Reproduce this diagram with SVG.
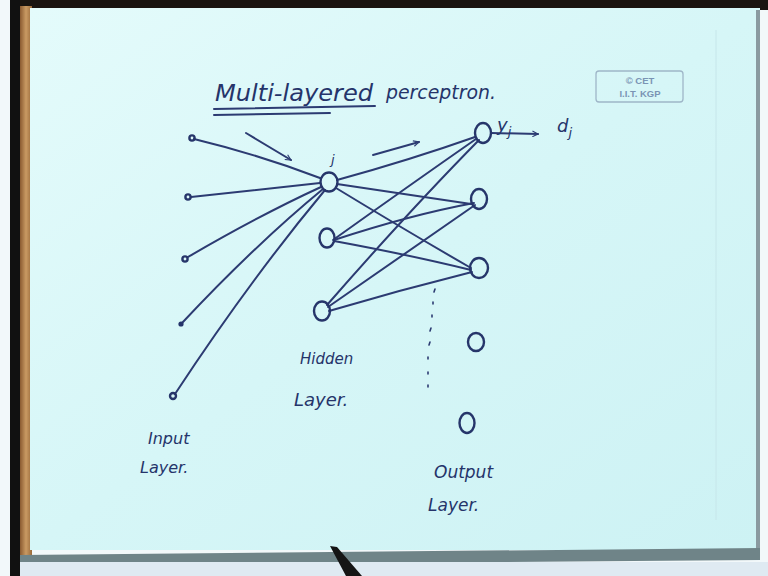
<svg xmlns="http://www.w3.org/2000/svg" width="768" height="576" viewBox="0 0 768 576">
  <defs>
    <linearGradient id="board" x1="0" y1="0" x2="1" y2="1">
      <stop offset="0" stop-color="#e4fbfb"/>
      <stop offset="0.5" stop-color="#d6f6f7"/>
      <stop offset="1" stop-color="#cdf2f4"/>
    </linearGradient>
    <linearGradient id="wood" x1="0" y1="0" x2="1" y2="0">
      <stop offset="0" stop-color="#8a5a30"/>
      <stop offset="0.5" stop-color="#c99a63"/>
      <stop offset="1" stop-color="#9a6a3a"/>
    </linearGradient>
    <marker id="ah" viewBox="0 0 10 10" refX="9" refY="5" markerWidth="7" markerHeight="7" orient="auto" markerUnits="userSpaceOnUse">
      <path d="M1,1 L9,5 L1,9" fill="none" stroke="#2c3b72" stroke-width="1.6"/>
    </marker>
    <style>
      .ink{stroke:#2c3b72;stroke-width:2;fill:none;stroke-linecap:round}
      .node{stroke:#26356a;stroke-width:2.4;fill:none}
      .hw{font-family:"DejaVu Sans","Liberation Sans",sans-serif;font-style:italic;fill:#25346a}
      .logo{font-family:"Liberation Sans",sans-serif;font-weight:bold;fill:#7a94b4;font-size:9.5px}
    </style>
  </defs>

  <!-- scene: board and frame -->
  <rect x="0" y="0" width="768" height="576" fill="#f2f8fa"/>
  <rect x="10" y="0" width="758" height="10" fill="#1a1410"/>
  <rect x="10" y="0" width="10" height="576" fill="#111"/>
  <rect x="20" y="6" width="12" height="570" fill="url(#wood)"/>
  <rect x="30" y="8" width="730" height="542" fill="url(#board)"/>
  <rect x="756" y="10" width="4" height="540" fill="#8a9aa0"/>
  <path d="M20,555 L760,548 L760,560 L20,566 Z" fill="#6f8488"/>
  <rect x="20" y="562" width="748" height="14" fill="#dfeaf2"/>
  <line x1="716" y1="30" x2="716" y2="520" stroke="#c6e6ea" stroke-width="1"/>

  <!-- logo -->
  <g id="logo">
    <rect x="596" y="71" width="87" height="31" rx="3" fill="none" stroke="#9fb6c8" stroke-width="1.3"/>
    <text class="logo" x="640" y="84" text-anchor="middle">© CET</text>
    <text class="logo" x="640" y="97" text-anchor="middle">I.I.T. KGP</text>
  </g>

  <!-- title -->
  <g id="title">
    <text class="hw" x="215" y="101" font-size="23" textLength="158" lengthAdjust="spacingAndGlyphs">Multi-layered</text>
    <text class="hw" x="386" y="99" font-size="20" textLength="110" lengthAdjust="spacingAndGlyphs">perceptron.</text>
    <path class="ink" d="M214,109 L375,106 M214,115 L330,113"/>
  </g>

  <!-- connectors -->
  <g id="connectors" class="ink">
    <!-- input -> hidden j -->
    <path d="M194,139 Q260,155 320,178"/>
    <path d="M191,197 L320,183"/>
    <path d="M188,257 Q260,215 321,187"/>
    <path d="M182,323 Q255,245 323,189"/>
    <path d="M175,394 Q250,280 325,190"/>
    <!-- hidden -> output -->
    <path d="M337,180 Q410,160 475,137"/>
    <path d="M337,184 Q410,195 471,204"/>
    <path d="M336,188 Q405,230 471,268"/>
    <path d="M333,240 Q410,185 476,139"/>
    <path d="M334,240 Q410,215 474,203"/>
    <path d="M334,241 Q410,255 471,270"/>
    <path d="M327,305 Q410,210 479,140"/>
    <path d="M328,307 Q410,250 475,205"/>
    <path d="M329,311 Q400,290 472,272"/>
    <!-- direction arrows -->
    <path d="M246,133 L291,160" marker-end="url(#ah)"/>
    <path d="M373,155 L419,142" marker-end="url(#ah)"/>
    <path d="M491,133 L538,134" marker-end="url(#ah)"/>
    <!-- dotted continuation -->
    <path d="M435,289 L434,292 M433,302 L433,304 M432,315 L432,317 M431,328 L430,331 M430,342 L429,345 M428,357 L428,359 M428,372 L428,374 M428,385 L428,387" stroke-width="1.6"/>
  </g>

  <!-- input layer -->
  <g id="input1"><circle class="node" cx="192" cy="138" r="2.6" stroke-width="1.8"/></g>
  <g id="input2"><circle class="node" cx="188" cy="197" r="2.6" stroke-width="1.8"/></g>
  <g id="input3"><circle class="node" cx="185" cy="259" r="2.6" stroke-width="1.8"/></g>
  <g id="input4"><circle cx="181" cy="324" r="2.6" fill="#25346a"/></g>
  <g id="input5"><circle class="node" cx="173" cy="396" r="3" stroke-width="1.8"/></g>

  <!-- hidden layer -->
  <g id="hiddenj"><ellipse class="node" cx="329" cy="182" rx="8.5" ry="9.5"/><text class="hw" x="331" y="164" font-size="13">j</text></g>
  <g id="hidden2"><ellipse class="node" cx="327" cy="238" rx="7.5" ry="9.5"/></g>
  <g id="hidden3"><ellipse class="node" cx="322" cy="311" rx="8" ry="9.5"/></g>

  <!-- output layer -->
  <g id="output1"><ellipse class="node" cx="483" cy="133" rx="8" ry="10"/></g>
  <g id="output2"><ellipse class="node" cx="479" cy="199" rx="8" ry="10"/></g>
  <g id="output3"><ellipse class="node" cx="479" cy="268" rx="9" ry="10"/></g>
  <g id="output4"><ellipse class="node" cx="476" cy="342" rx="8" ry="9"/></g>
  <g id="output5"><ellipse class="node" cx="467" cy="423" rx="7.5" ry="10"/></g>

  <!-- labels -->
  <g id="labels">
    <text class="hw" x="497" y="131" font-size="18">y<tspan font-size="13" dy="5">j</tspan></text>
    <text class="hw" x="557" y="132" font-size="18">d<tspan font-size="13" dy="5">j</tspan></text>
    <text class="hw" x="300" y="364" font-size="15">Hidden</text>
    <text class="hw" x="294" y="406" font-size="18">Layer.</text>
    <text class="hw" x="148" y="444" font-size="16">Input</text>
    <text class="hw" x="140" y="473" font-size="16">Layer.</text>
    <text class="hw" x="434" y="478" font-size="17">Output</text>
    <text class="hw" x="428" y="511" font-size="17">Layer.</text>
  </g>

  <!-- pen at bottom -->
  <path d="M330,546 L337,547 L362,576 L346,576 Z" fill="#151515"/>
</svg>
